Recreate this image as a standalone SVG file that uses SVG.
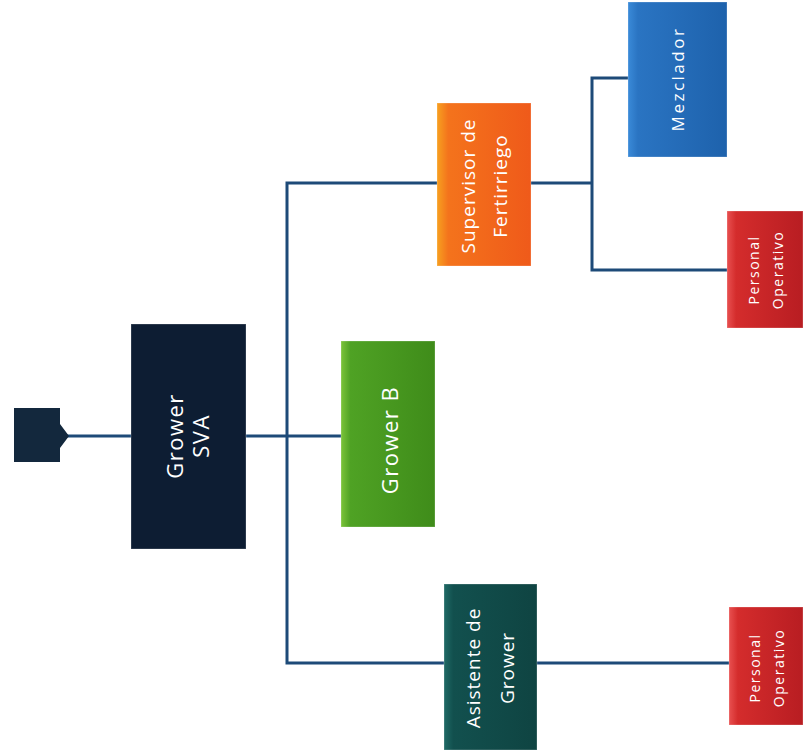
<svg xmlns="http://www.w3.org/2000/svg" width="803" height="754" viewBox="0 0 803 754">
<style>
.lbl{font-family:"Open Sans","Liberation Sans",sans-serif;fill:#ffffff;text-anchor:middle;dominant-baseline:central}
.conn{stroke:#1d4a78;stroke-width:3;fill:none}
.box{stroke:#ffffff;stroke-opacity:0.25;stroke-width:1}
</style>
<defs>
<linearGradient id="gOr" x1="0" y1="0" x2="1" y2="0"><stop offset="0" stop-color="#f7a020"/><stop offset="0.12" stop-color="#f4731c"/><stop offset="1" stop-color="#ef5a1a"/></linearGradient>
<linearGradient id="gGr" x1="0" y1="0" x2="1" y2="0"><stop offset="0" stop-color="#7cc43a"/><stop offset="0.1" stop-color="#4fa224"/><stop offset="1" stop-color="#3f8c1a"/></linearGradient>
<linearGradient id="gBl" x1="0" y1="0" x2="1" y2="0"><stop offset="0" stop-color="#3a8ad8"/><stop offset="0.1" stop-color="#2a74c2"/><stop offset="1" stop-color="#1e62ac"/></linearGradient>
<linearGradient id="gRd" x1="0" y1="0" x2="1" y2="0"><stop offset="0" stop-color="#e85050"/><stop offset="0.12" stop-color="#d42c2c"/><stop offset="1" stop-color="#b81d22"/></linearGradient>
<linearGradient id="gTl" x1="0" y1="0" x2="1" y2="0"><stop offset="0" stop-color="#1f6a66"/><stop offset="0.1" stop-color="#12504e"/><stop offset="1" stop-color="#0f4442"/></linearGradient>
</defs>
<rect width="803" height="754" fill="#ffffff"/>
<g id="connectors">
<line class="conn" x1="66" y1="436" x2="131" y2="436"/>
<line class="conn" x1="246" y1="436" x2="341" y2="436"/>
<polyline class="conn" points="437,183 287,183 287,663 444,663"/>
<line class="conn" x1="537" y1="663" x2="729" y2="663"/>
<line class="conn" x1="531" y1="183" x2="592" y2="183"/>
<polyline class="conn" points="628,78 592,78 592,270 727,270"/>
</g>
<g id="root-tab">
<polygon points="14,408 60,408 60,424 69,436 60,448 60,462 14,462" fill="#13283d"/>
</g>
<g id="grower-sva">
<rect class="box" x="131" y="324" width="115" height="225" fill="#0d1d33"/>
<text class="lbl" font-size="22" letter-spacing="1.5" transform="translate(187,436) rotate(-90)"><tspan x="0" y="-13">Grower</tspan><tspan x="0" y="13">SVA</tspan></text>
</g>
<g id="grower-b">
<rect class="box" x="341" y="341" width="94" height="186" fill="url(#gGr)"/>
<text class="lbl" font-size="22" letter-spacing="1.5" transform="translate(389,440) rotate(-90)">Grower B</text>
</g>
<g id="supervisor">
<rect class="box" x="437" y="103" width="94" height="163" fill="url(#gOr)"/>
<text class="lbl" font-size="19" letter-spacing="1" transform="translate(484,186) rotate(-90)"><tspan x="0" y="-16">Supervisor de</tspan><tspan x="0" y="16">Fertirriego</tspan></text>
</g>
<g id="mezclador">
<rect class="box" x="628" y="2" width="99" height="155" fill="url(#gBl)"/>
<text class="lbl" font-size="17" letter-spacing="2.5" transform="translate(677,79) rotate(-90)">Mezclador</text>
</g>
<g id="personal-1">
<rect class="box" x="727" y="211" width="76" height="117" fill="url(#gRd)"/>
<text class="lbl" font-size="14" letter-spacing="1.5" transform="translate(765,270) rotate(-90)"><tspan x="0" y="-12">Personal</tspan><tspan x="0" y="12">Operativo</tspan></text>
</g>
<g id="asistente">
<rect class="box" x="444" y="584" width="93" height="166" fill="url(#gTl)"/>
<text class="lbl" font-size="19" letter-spacing="1" transform="translate(490,668) rotate(-90)"><tspan x="0" y="-17">Asistente de</tspan><tspan x="0" y="17">Grower</tspan></text>
</g>
<g id="personal-2">
<rect class="box" x="729" y="607" width="74" height="118" fill="url(#gRd)"/>
<text class="lbl" font-size="14" letter-spacing="1.5" transform="translate(766,668) rotate(-90)"><tspan x="0" y="-12">Personal</tspan><tspan x="0" y="12">Operativo</tspan></text>
</g>
</svg>
